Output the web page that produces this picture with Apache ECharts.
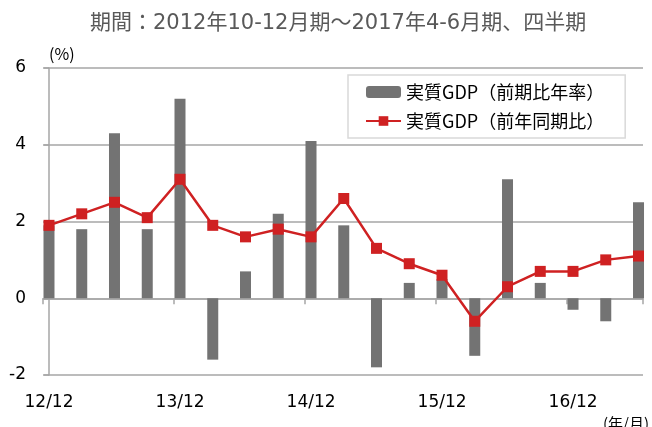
<!DOCTYPE html>
<html>
<head>
<meta charset="utf-8">
<script src="https://cdn.jsdelivr.net/npm/echarts@6/dist/echarts.min.js"></script>
<style>
html, body { margin: 0; padding: 0; background: #fff; }
#main { width: 652px; height: 427px; }
</style>
</head>
<body>
<div id="main"></div>
<script>
// 四半期 (年/月)
var quarters = ['12/12', '13/3', '13/6', '13/9', '13/12', '14/3', '14/6', '14/9', '14/12',
    '15/3', '15/6', '15/9', '15/12', '16/3', '16/6', '16/9', '16/12', '17/3', '17/6'];
// 実質GDP（前期比年率）
var qoqAnnual = [1.9, 1.8, 4.3, 1.8, 5.2, -1.6, 0.7, 2.2, 4.1, 1.9, -1.8, 0.4, 0.5, -1.5, 3.1, 0.4, -0.3, -0.6, 2.5];
// 実質GDP（前年同期比）
var yoy = [1.9, 2.2, 2.5, 2.1, 3.1, 1.9, 1.6, 1.8, 1.6, 2.6, 1.3, 0.9, 0.6, -0.6, 0.3, 0.7, 0.7, 1.0, 1.1];

var xMin = -0.183, xMax = 18.137;
var gridColor = '#a6a6a6';

function pairs(arr) {
    return arr.map(function (v, i) { return [i, v]; });
}

var chart = echarts.init(document.getElementById('main'));

var option = {
    animation: false,
    title: [
        {
            text: '期間：2012年10-12月期～2017年4-6月期、四半期',
            left: 85,
            top: 8,
            textStyle: { color: '#595959', fontSize: 21, fontWeight: 'normal', fontFamily: "'DejaVu Sans', 'Noto Sans CJK JP'" }
        },
        {
            text: '(年/月)',
            left: 598,
            top: 411,
            textStyle: { color: '#000', fontSize: 15, fontWeight: 'normal', fontFamily: 'Noto Sans CJK JP' }
        }
    ],
    legend: {
        orient: 'vertical',
        left: 348,
        top: 75,
        padding: [8, 21, 8, 17],
        itemGap: 11,
        itemWidth: 35,
        itemHeight: 12,
        borderColor: '#d9d9d9',
        borderWidth: 1.5,
        textStyle: { color: '#000', fontSize: 18, fontFamily: 'Noto Sans CJK JP' },
        data: ['実質GDP（前期比年率）', '実質GDP（前年同期比）']
    },
    grid: { left: 43, right: 9, top: 68, bottom: 52 },
    xAxis: [
        {
            type: 'value',
            min: xMin,
            max: xMax,
            interval: 4,
            axisLine: { onZero: true, lineStyle: { color: gridColor, width: 1.5 } },
            axisTick: { show: true, length: 6, lineStyle: { color: gridColor, width: 1.5 } },
            axisLabel: { show: false },
            splitLine: { show: false }
        },
        {
            type: 'value',
            position: 'bottom',
            min: xMin,
            max: xMax,
            interval: 4,
            axisLine: { show: false, onZero: false },
            axisTick: { show: false },
            splitLine: { show: false },
            axisLabel: {
                show: true,
                margin: 19,
                padding: [0, 0, 0, 12],
                showMinLabel: true,
                showMaxLabel: false,
                color: '#000',
                fontSize: 17,
                fontFamily: 'DejaVu Sans',
                formatter: function (v) {
                    var i = Math.round(v);
                    return i < quarters.length - 1 ? quarters[i] : '';
                }
            }
        }
    ],
    yAxis: {
        type: 'value',
        min: -2,
        max: 6,
        interval: 2,
        name: '(%)',
        nameLocation: 'end',
        nameGap: 6,
        nameTextStyle: { color: '#000', fontSize: 16, align: 'left', fontFamily: 'Noto Sans CJK JP' },
        axisLine: { show: true, lineStyle: { color: gridColor, width: 1.5 } },
        axisTick: { show: true, length: 5, lineStyle: { color: gridColor, width: 1.5 } },
        axisLabel: { margin: 17, color: '#000', fontSize: 17, fontFamily: 'DejaVu Sans' },
        splitLine: { show: true, lineStyle: { color: gridColor, width: 1.5 } }
    },
    series: [
        {
            name: '実質GDP（前期比年率）',
            type: 'bar',
            xAxisIndex: 0,
            barWidth: 11,
            itemStyle: { color: '#737373' },
            data: pairs(qoqAnnual)
        },
        {
            name: '実質GDP（前年同期比）',
            type: 'line',
            xAxisIndex: 0,
            symbol: 'rect',
            symbolSize: 11,
            lineStyle: { color: '#cf2122', width: 2.5 },
            itemStyle: { color: '#cf2122' },
            data: pairs(yoy)
        }
    ]
};

chart.setOption(option);
</script>
</body>
</html>
